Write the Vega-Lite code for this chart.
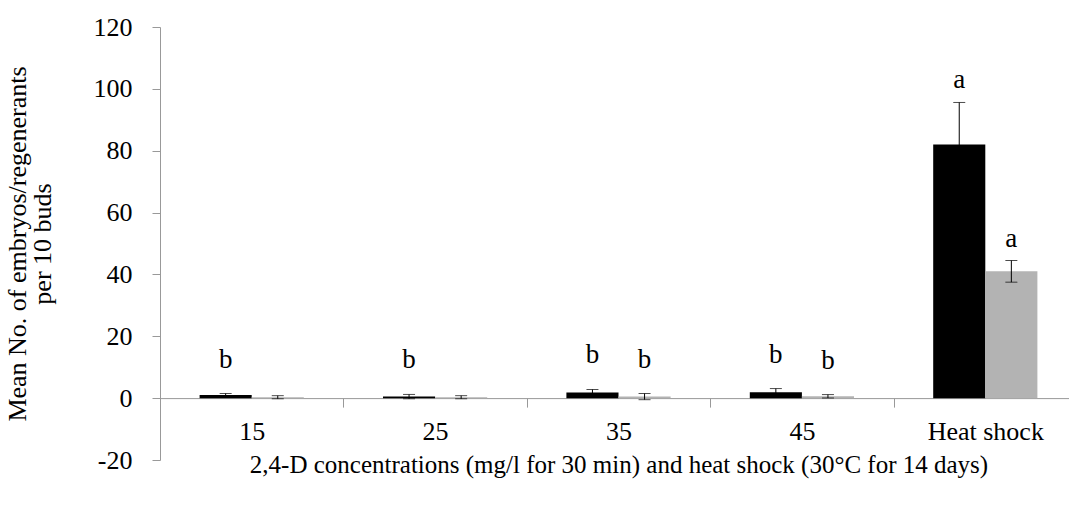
{
  "$schema": "https://vega.github.io/schema/vega-lite/v6.json",
  "width": 905,
  "height": 433,
  "autosize": {"type": "none"},
  "padding": {"left": 160, "top": 27, "right": 4, "bottom": 50},
  "config": {"view": {"stroke": null}, "font": "Liberation Serif"},
  "data": {"values": [
    {"conc": "15", "series": "black", "mean": 1.0, "err": 0.5, "letter": "b"},
    {"conc": "15", "series": "gray", "mean": 0.3, "err": 0.5, "letter": ""},
    {"conc": "25", "series": "black", "mean": 0.5, "err": 0.7, "letter": "b"},
    {"conc": "25", "series": "gray", "mean": 0.3, "err": 0.5, "letter": ""},
    {"conc": "35", "series": "black", "mean": 1.8, "err": 1.0, "letter": "b"},
    {"conc": "35", "series": "gray", "mean": 0.5, "err": 1.0, "letter": "b"},
    {"conc": "45", "series": "black", "mean": 1.9, "err": 1.2, "letter": "b"},
    {"conc": "45", "series": "gray", "mean": 0.6, "err": 0.55, "letter": "b"},
    {"conc": "Heat shock", "series": "black", "mean": 82.0, "err": 13.6, "letter": "a"},
    {"conc": "Heat shock", "series": "gray", "mean": 41.0, "err": 3.5, "letter": "a"}
  ]},
  "transform": [
    {"calculate": "datum.mean - datum.err", "as": "lo"},
    {"calculate": "datum.mean + datum.err", "as": "hi"}
  ],
  "encoding": {
    "x": {
      "field": "conc", "type": "nominal",
      "sort": ["15", "25", "35", "45", "Heat shock"],
      "scale": {"paddingInner": 0, "paddingOuter": 0, "range": [0, 917]},
      "axis": {
        "orient": "bottom", "offset": -61.9, "tickBand": "extent", "labelAngle": 0,
        "tickSize": 9, "labelPadding": 11, "labelFontSize": 26, "labelColor": "#000",
        "title": "2,4-D concentrations (mg/l for 30 min) and heat shock (30°C for 14 days)",
        "titleFontSize": 25, "titleFontWeight": "normal", "titleColor": "#000", "titlePadding": 8,
        "domainColor": "#999", "tickColor": "#999", "grid": false
      }
    },
    "xOffset": {
      "field": "series", "type": "nominal", "sort": ["black", "gray"],
      "scale": {"paddingInner": 0, "paddingOuter": 0.76}
    }
  },
  "layer": [
    {
      "mark": {"type": "bar"},
      "encoding": {
        "y": {
          "field": "mean", "type": "quantitative",
          "scale": {"domain": [-20, 120], "nice": false, "zero": false},
          "axis": {
            "values": [-20, 0, 20, 40, 60, 80, 100, 120], "grid": false,
            "labelExpr": "replace(datum.label, '−', '-')",
            "domainColor": "#999", "tickColor": "#999", "tickSize": 8,
            "labelFontSize": 26, "labelPadding": 20, "labelColor": "#000",
            "title": ["Mean No. of embryos/regenerants", "per 10 buds"],
            "titleFontSize": 26, "titleFontWeight": "normal", "titleColor": "#000",
            "titleLineHeight": 25, "titlePadding": 38
          }
        },
        "color": {
          "field": "series", "type": "nominal",
          "scale": {"domain": ["black", "gray"], "range": ["#000000", "#b3b3b3"]},
          "legend": null
        }
      }
    },
    {
      "mark": {"type": "rule", "color": "#000", "strokeWidth": 1},
      "encoding": {"y": {"field": "lo", "type": "quantitative"}, "y2": {"field": "hi"}}
    },
    {
      "mark": {"type": "tick", "color": "#000", "thickness": 1, "size": 12},
      "encoding": {"y": {"field": "hi", "type": "quantitative"}}
    },
    {
      "mark": {"type": "tick", "color": "#000", "thickness": 1, "size": 12},
      "encoding": {"y": {"field": "lo", "type": "quantitative"}}
    },
    {
      "transform": [{"filter": "datum.letter != '' && datum.conc != 'Heat shock'"}],
      "mark": {"type": "text", "baseline": "bottom", "align": "center", "dy": -20, "fontSize": 27, "color": "#000"},
      "encoding": {"y": {"field": "hi", "type": "quantitative"}, "text": {"field": "letter"}}
    },
    {
      "transform": [{"filter": "datum.conc == 'Heat shock'"}],
      "mark": {"type": "text", "baseline": "bottom", "align": "center", "dy": -8, "fontSize": 27, "color": "#000"},
      "encoding": {"y": {"field": "hi", "type": "quantitative"}, "text": {"field": "letter"}}
    }
  ]
}
